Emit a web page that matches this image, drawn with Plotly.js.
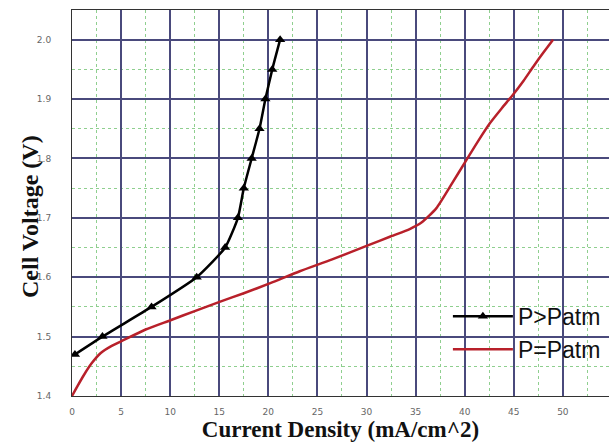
<!DOCTYPE html>
<html><head><meta charset="utf-8">
<script src="https://cdn.plot.ly/plotly-3.0.1.min.js"></script>
<style>html,body{margin:0;padding:0;background:#fff;}#c{width:609px;height:446px;}</style>
</head><body><div id="c"></div>
<script>
// P>Patm series
const highX = [0.3, 3.1, 8.1, 12.7, 15.6, 16.9, 17.5, 18.3, 19.1, 19.7, 20.4, 21.2];
const highY = [1.47, 1.50, 1.55, 1.60, 1.65, 1.70, 1.75, 1.80, 1.85, 1.90, 1.95, 2.00];
// P=Patm series
const atmX = [0, 0.5, 1.2, 2.0, 2.9, 4.0, 5.0, 7.5, 10.1, 12.5, 15.1, 17.5, 20.2, 23.2, 26.5, 30.2, 32.5, 34.4, 35.6, 37.1, 38.6, 40.2, 41.4, 42.6, 43.8, 44.9, 46.0, 47.0, 48.0, 49.0];
const atmY = [1.40, 1.415, 1.435, 1.455, 1.472, 1.484, 1.492, 1.512, 1.528, 1.543, 1.559, 1.573, 1.590, 1.610, 1.630, 1.654, 1.669, 1.681, 1.692, 1.716, 1.755, 1.798, 1.830, 1.860, 1.885, 1.907, 1.931, 1.955, 1.978, 2.00];
const xTicks = [0, 5, 10, 15, 20, 25, 30, 35, 40, 45, 50, 55];
const yTicks = [1.4, 1.5, 1.6, 1.7, 1.8, 1.9, 2.0];
const yTickText = ['1.4', '1.5', '1.6', '1.7', '1.8', '1.9', '2.0'];

const traces = [
  {x: highX, y: highY, name: 'P>Patm', type: 'scatter', mode: 'lines+markers',
   line: {color: '#000000', width: 2.5, shape: 'spline', smoothing: 0.5}, marker: {symbol: 'triangle-up', size: 9, color: '#000000'}},
  {x: atmX, y: atmY, name: 'P=Patm', type: 'scatter', mode: 'lines',
   line: {color: '#b8202a', width: 2.5, shape: 'spline', smoothing: 0.6}}
];

const layout = {
  width: 609, height: 446,
  margin: {l: 72, r: 0, t: 10, b: 50},
  paper_bgcolor: '#ffffff', plot_bgcolor: '#ffffff',
  showlegend: true,
  legend: {x: 0.7, y: 0.262, xanchor: 'left', yanchor: 'top', bgcolor: 'rgba(0,0,0,0)',
           font: {family: 'Liberation Sans, Arial', size: 23, color: '#111'}, itemwidth: 60, tracegroupgap: 0},
  xaxis: {
    range: [0, 54.7], tickvals: xTicks, ticktext: xTicks.map(String),
    showgrid: true, gridcolor: '#4a4a7c', gridwidth: 2,
    showline: true, linecolor: '#333', linewidth: 1, mirror: true,
    zeroline: false, ticks: '', ticklabelstandoff: 7,
    tickfont: {family: 'DejaVu Sans, Arial', size: 9, color: '#666'},
    minor: {dtick: 2.5, tick0: 0, showgrid: true, gridcolor: '#8fcf8f', griddash: 'dot', gridwidth: 1},
    title: {text: 'Current Density (mA/cm^2)', font: {family: 'Liberation Serif, Times New Roman', size: 23, color: '#111', weight: 'bold'}, standoff: 4}
  },
  yaxis: {
    range: [1.4, 2.05], tickvals: yTicks, ticktext: yTickText,
    showgrid: true, gridcolor: '#4a4a7c', gridwidth: 2,
    showline: true, linecolor: '#333', linewidth: 1, mirror: true,
    zeroline: false, ticks: '', ticklabelstandoff: 18,
    tickfont: {family: 'DejaVu Sans, Arial', size: 9, color: '#666'},
    minor: {dtick: 0.05, tick0: 1.4, showgrid: true, gridcolor: '#8fcf8f', griddash: 'dot', gridwidth: 1}
  },
  annotations: [{
    text: 'Cell Voltage (V)', textangle: -90, showarrow: false,
    xref: 'paper', yref: 'paper', x: 0, y: 0.4637, xanchor: 'center', yanchor: 'middle', xshift: -42,
    font: {family: 'Liberation Serif, Times New Roman', size: 24, color: '#111', weight: 'bold'}
  }]
};

Plotly.newPlot('c', traces, layout, {staticPlot: true, displayModeBar: false});
</script>
</body></html>
